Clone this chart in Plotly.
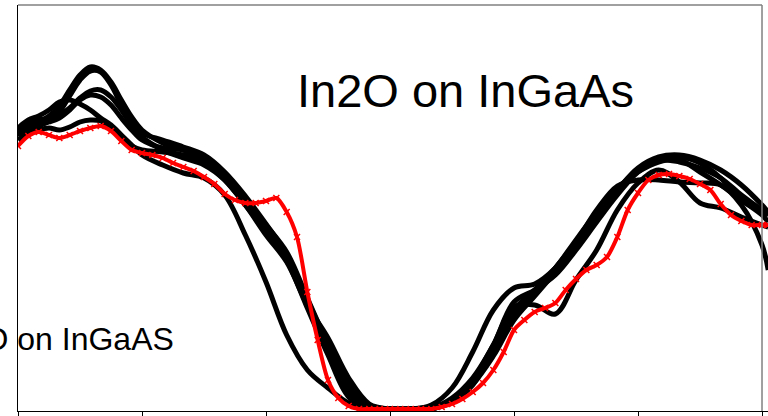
import plotly.graph_objects as go

# Scan angle (degrees) for the black measurement curves
X_BLACK = [0, 5, 10, 15, 20, 25, 30, 35, 40, 45, 50, 55, 60,
           70, 80, 90, 100, 110, 120, 130, 140, 150, 160, 170, 180, 190, 200,
           210, 220, 230, 240, 250, 260, 270, 280, 290, 300, 310, 320, 330,
           340, 350, 360, 363]

K1 = [279, 285, 289, 295, 305, 321, 336, 344, 341, 329, 311, 294, 281,
      268, 261, 251, 233, 211, 186, 159, 113, 66, 21, 3, 2, 2, 4,
      11, 29, 59, 96, 119, 143, 169, 196, 221, 243, 254, 256, 251,
      241, 226, 206, 199]
K2 = [275, 281, 285, 290, 299, 315, 331, 340, 339, 326, 306, 289, 278,
      271, 264, 256, 239, 215, 187, 156, 106, 59, 16, 2, 2, 2, 6,
      23, 59, 101, 123, 127, 143, 169, 201, 225, 231, 231, 229, 228,
      226, 206, 166, 141]
K3 = [281, 287, 291, 293, 296, 303, 313, 320, 321, 314, 301, 286, 274,
      261, 253, 246, 231, 206, 176, 149, 106, 73, 33, 7, 2, 2, 2,
      11, 31, 66, 104, 106, 97, 131, 161, 201, 228, 241, 229, 208,
      203, 194, 186, 184]
K4 = [283, 291, 295, 301, 309, 311, 307, 301, 293, 286, 276, 266, 256,
      246, 238, 233, 216, 176, 129, 76, 41, 23, 8, 2, 2, 2, 2,
      11, 27, 55, 91, 115, 139, 163, 191, 219, 241, 251, 249, 243,
      233, 216, 201, 197]
K5 = [271, 277, 281, 283, 281, 284, 289, 291, 290, 283, 273, 265, 261,
      259, 256, 249, 231, 206, 179, 153, 111, 66, 26, 6, 2, 2, 2,
      9, 26, 61, 101, 121, 143, 171, 199, 223, 239, 249, 251, 239,
      226, 211, 196, 189]
K6 = [277, 283, 286, 289, 293, 301, 311, 316, 314, 306, 293, 281, 271,
      263, 261, 253, 236, 211, 183, 151, 103, 56, 14, 2, 2, 2, 3,
      13, 33, 66, 109, 121, 136, 161, 189, 216, 239, 251, 254, 248,
      233, 211, 199, 196]
BLACK_SERIES = [K1, K2, K3, K4, K5, K6]

# Red (In2O on InGaAs) curve, 5-degree steps
X_RED = list(range(0, 361, 5)) + [363]
RED = [265, 275, 279, 276, 273, 276, 280, 283, 285, 280, 270, 261, 258,
       256, 253, 248, 244, 240, 234, 227, 217, 211, 208, 208, 210, 213,
       199, 174, 119, 71, 31, 13, 5, 2, 2, 2, 2, 2, 2, 2, 2, 4, 7, 12,
       19, 28, 41, 59, 81, 91, 99, 103, 108, 121, 132, 141, 146, 154,
       174, 201, 218, 231, 236, 237, 235, 232, 227, 221, 207, 196, 190,
       186, 186, 186]

TICKS = [0, 60, 120, 180, 240, 300, 360]
TITLE = "In2O on InGaAs"
LABEL = "In2O on InGaAS"

fig = go.Figure()
for ys in BLACK_SERIES:
    fig.add_trace(go.Scatter(
        x=X_BLACK, y=ys, mode="lines",
        line=dict(color="black", width=5, shape="spline", smoothing=1.0),
        hoverinfo="skip", showlegend=False))

fig.add_trace(go.Scatter(
    x=X_RED, y=RED, mode="lines+markers",
    line=dict(color="#ff0000", width=4, shape="spline", smoothing=0.8),
    marker=dict(symbol="x-thin", size=6, color="#ff0000",
                line=dict(color="#ff0000", width=1.5)),
    showlegend=False, name=LABEL))

FONT = "Liberation Sans, Arial, sans-serif"
fig.update_layout(
    width=768, height=416,
    margin=dict(l=18, r=0, t=5, b=5, pad=0),
    paper_bgcolor="white", plot_bgcolor="white",
    showlegend=False,
    xaxis=dict(range=[0, 362.9], showgrid=False, zeroline=False,
               showline=True, linecolor="black", linewidth=1,
               ticks="outside", tickvals=TICKS, ticklen=5,
               tickcolor="black", tickwidth=1, showticklabels=False),
    yaxis=dict(range=[0, 406], showgrid=False, zeroline=False,
               showline=True, linecolor="black", linewidth=1,
               ticks="", showticklabels=False),
    shapes=[
        dict(type="line", xref="x", yref="paper", x0=0, x1=360, y0=1, y1=1,
             line=dict(color="#808080", width=1.5)),
        dict(type="line", xref="x", yref="paper", x0=360, x1=360, y0=0, y1=1,
             line=dict(color="#808080", width=1.5)),
    ],
    annotations=[
        dict(text=TITLE, xref="paper", yref="paper", x=0.596, y=0.79,
             xanchor="center", yanchor="middle", showarrow=False,
             font=dict(family=FONT, size=47, color="black")),
        dict(text=LABEL, xref="paper", yref="paper", x=0.2107, y=0.177,
             xanchor="right", yanchor="middle", showarrow=False,
             font=dict(family=FONT, size=32, color="black")),
    ],
)

fig.write_html("out.html")
